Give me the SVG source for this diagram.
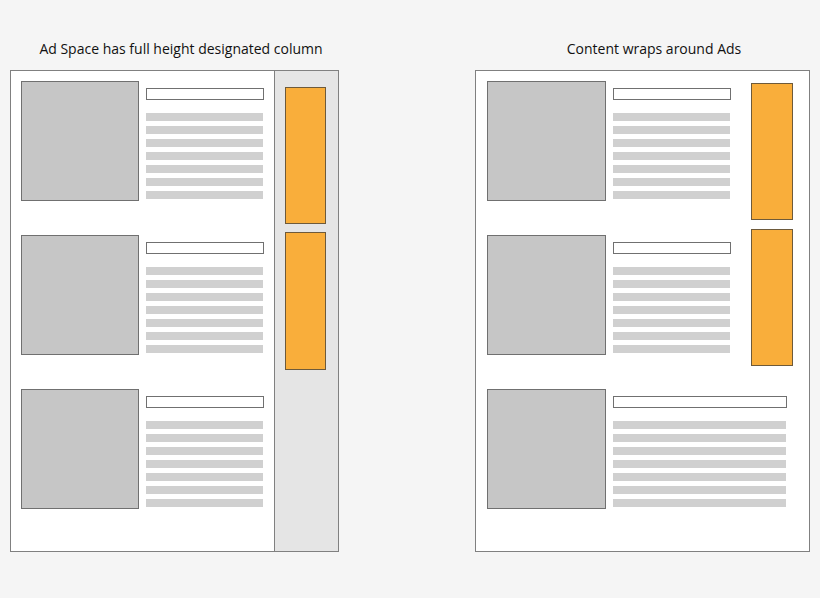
<svg xmlns="http://www.w3.org/2000/svg" width="820" height="598" viewBox="0 0 820 598">
<style>
.frame{fill:#fff;stroke:#808080;stroke-width:1}
.img{fill:#c6c6c6;stroke:#707070;stroke-width:1}
.tb{fill:#fff;stroke:#707070;stroke-width:1}
.ln{fill:#d0d0d0}
.ad{fill:#f9ae3b;stroke:#6e5a3a;stroke-width:1}
.adcol{fill:#e5e5e5;stroke:#808080;stroke-width:1}
text{font-family:"Open Sans","Liberation Sans",sans-serif;font-size:14px;fill:#111;text-anchor:middle}
</style>
<defs>
<g id="lines">
<rect class="ln" x="0" y="0" width="117" height="8"/>
<rect class="ln" x="0" y="13" width="117" height="8"/>
<rect class="ln" x="0" y="26" width="117" height="8"/>
<rect class="ln" x="0" y="39" width="117" height="8"/>
<rect class="ln" x="0" y="52" width="117" height="8"/>
<rect class="ln" x="0" y="65" width="117" height="8"/>
<rect class="ln" x="0" y="78" width="117" height="8"/>
</g>
<g id="linesW">
<rect class="ln" x="0" y="0" width="173" height="8"/>
<rect class="ln" x="0" y="13" width="173" height="8"/>
<rect class="ln" x="0" y="26" width="173" height="8"/>
<rect class="ln" x="0" y="39" width="173" height="8"/>
<rect class="ln" x="0" y="52" width="173" height="8"/>
<rect class="ln" x="0" y="65" width="173" height="8"/>
<rect class="ln" x="0" y="78" width="173" height="8"/>
</g>
</defs>
<rect width="820" height="598" fill="#f5f5f5"/>
<text x="181" y="54">Ad Space has full height designated column</text>
<text x="654" y="54">Content wraps around Ads</text>
<g id="left">
<rect class="frame" x="10.5" y="70.5" width="328" height="481"/>
<rect class="adcol" x="274.5" y="70.5" width="64" height="481"/>
<rect class="img" x="21.5" y="81.5" width="117" height="119"/>
<rect class="tb" x="146.5" y="88.5" width="117" height="11"/>
<use href="#lines" x="146" y="113"/>
<rect class="img" x="21.5" y="235.5" width="117" height="119"/>
<rect class="tb" x="146.5" y="242.5" width="117" height="11"/>
<use href="#lines" x="146" y="267"/>
<rect class="img" x="21.5" y="389.5" width="117" height="119"/>
<rect class="tb" x="146.5" y="396.5" width="117" height="11"/>
<use href="#lines" x="146" y="421"/>
<rect class="ad" x="285.5" y="87.5" width="40" height="136"/>
<rect class="ad" x="285.5" y="232.5" width="40" height="137"/>
</g>
<g id="right">
<rect class="frame" x="475.5" y="70.5" width="334" height="481"/>
<rect class="img" x="487.5" y="81.5" width="118" height="119"/>
<rect class="tb" x="613.5" y="88.5" width="117" height="11"/>
<use href="#lines" x="613" y="113"/>
<rect class="img" x="487.5" y="235.5" width="118" height="119"/>
<rect class="tb" x="613.5" y="242.5" width="117" height="11"/>
<use href="#lines" x="613" y="267"/>
<rect class="img" x="487.5" y="389.5" width="118" height="119"/>
<rect class="tb" x="613.5" y="396.5" width="173" height="11"/>
<use href="#linesW" x="613" y="421"/>
<rect class="ad" x="751.5" y="83.5" width="41" height="136"/>
<rect class="ad" x="751.5" y="229.5" width="41" height="136"/>
</g>
<g id="connectors"/>
</svg>
